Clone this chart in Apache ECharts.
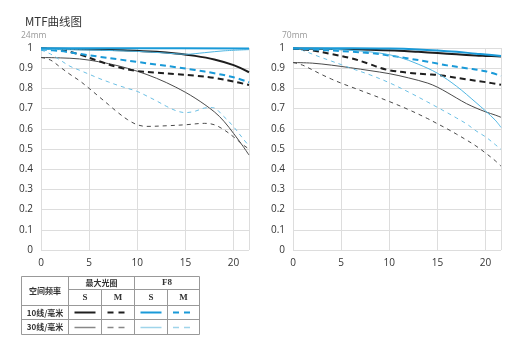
<!DOCTYPE html>
<html><head><meta charset="utf-8">
<script src="https://cdn.jsdelivr.net/npm/echarts@6/dist/echarts.min.js"></script>
<style>html,body{margin:0;padding:0;background:#fff}#c{width:525px;height:349px}</style>
</head><body><div id="c"></div>
<script>
// ---- data: [spatial position mm, MTF] ----
const panelTitles = ['24mm', '70mm'];
const xTicks = [0, 5, 10, 15, 20];
const xMax = 21.6;

// 24mm
const w_max10S = [[0,0.997],[3,0.995],[6,0.992],[9,0.988],[12,0.981],[14,0.973],[16,0.961],[18,0.943],[20,0.915],[21.6,0.88]];
const w_max10M = [[0,0.997],[2,0.99],[4,0.968],[6,0.935],[8,0.905],[10,0.886],[12,0.878],[14,0.871],[16,0.863],[18,0.852],[20,0.834],[21.6,0.817]];
const w_max30S = [[0,0.953],[2,0.951],[4,0.946],[6,0.932],[8,0.912],[10,0.885],[12,0.85],[14,0.806],[16,0.752],[18,0.684],[19,0.637],[20,0.577],[21,0.512],[21.6,0.47]];
const w_max30M = [[0,0.953],[1,0.94],[2,0.905],[3,0.87],[4,0.838],[5,0.8],[6,0.76],[7,0.72],[8,0.68],[9,0.645],[10,0.62],[11,0.612],[13,0.615],[15,0.62],[17,0.627],[18,0.62],[19,0.595],[20,0.56],[21,0.52],[21.6,0.5]];
const w_f8_10S = [[0,0.999],[10,0.999],[21.6,0.998]];
const w_f8_10M = [[0,0.993],[2,0.985],[4,0.971],[6,0.957],[8,0.944],[10,0.931],[12,0.918],[14,0.905],[16,0.891],[18,0.875],[20,0.855],[21.6,0.83]];
const w_f8_30S = [[0,0.993],[5,0.99],[10,0.983],[13,0.975],[15,0.969],[17,0.977],[19,0.986],[21.6,0.992]];
const w_f8_30M = [[0,0.99],[1,0.97],[2,0.94],[3,0.91],[4,0.89],[5,0.87],[6,0.85],[7,0.832],[8,0.815],[9,0.8],[10,0.785],[11,0.762],[12,0.738],[13,0.712],[14,0.69],[15,0.68],[16,0.687],[17,0.703],[17.8,0.705],[19,0.66],[20,0.61],[21,0.55],[21.6,0.515]];

// 70mm
const t_max10S = [[0,0.997],[4,0.995],[8,0.991],[11,0.987],[13,0.981],[15,0.975],[17,0.969],[19,0.963],[20,0.961],[21.6,0.958]];
const t_max10M = [[0,0.997],[2,0.988],[4,0.97],[6,0.95],[8,0.92],[9,0.902],[10,0.89],[12,0.877],[14,0.87],[15,0.867],[16,0.86],[18,0.845],[20,0.831],[21.6,0.818]];
const t_max30S = [[0,0.928],[2,0.925],[4,0.915],[6,0.902],[8,0.888],[10,0.873],[12,0.852],[14,0.826],[15,0.806],[16,0.78],[17,0.752],[18,0.725],[19,0.703],[20,0.684],[21,0.668],[21.6,0.657]];
const t_max30M = [[0,0.928],[1,0.915],[2,0.892],[3,0.868],[4,0.846],[5,0.826],[6,0.808],[8,0.772],[10,0.735],[12,0.695],[14,0.65],[15,0.625],[16,0.6],[17,0.573],[18,0.545],[19,0.515],[20,0.48],[21,0.442],[21.6,0.415]];
const t_f8_10S = [[0,0.999],[6,0.999],[10,0.997],[13,0.993],[15,0.988],[17,0.981],[19,0.972],[20,0.968],[21.6,0.96]];
const t_f8_10M = [[0,0.998],[3,0.99],[6,0.982],[8,0.975],[10,0.963],[12,0.948],[14,0.932],[15,0.923],[16,0.914],[18,0.9],[20,0.885],[21.6,0.862]];
const t_f8_30S = [[0,0.998],[4,0.994],[7,0.985],[9,0.975],[11,0.955],[13,0.92],[15,0.875],[17,0.81],[19,0.73],[20,0.688],[21,0.643],[21.6,0.607]];
const t_f8_30M = [[0,0.997],[1,0.988],[2,0.97],[3,0.952],[4,0.935],[5,0.918],[6,0.9],[8,0.867],[10,0.828],[12,0.782],[14,0.732],[15,0.706],[16,0.68],[17,0.653],[18,0.625],[19,0.59],[20,0.56],[21,0.522],[21.6,0.498]];

// legend table text
const tableHeader = ['空间频率', '最大光圈', 'F8', 'S', 'M', 'S', 'M'];
const rowLabels = ['10线/毫米', '30线/毫米'];

// ---- styles ----
const C_BLACK = '#1e1e1e', C_GRAY = '#4a4a4a', C_BLUE = '#1a9ad8', C_LBLUE = '#4fb6e2', C_LBLUE_D = '#6cc0e5';
const styles = {
  max10S: {color: C_BLACK, width: 2, type: 'solid'},
  max10M: {color: C_BLACK, width: 2, type: [6, 4]},
  max30S: {color: C_GRAY, width: 1, type: 'solid'},
  max30M: {color: C_GRAY, width: 1, type: [4, 4]},
  f8_10S: {color: C_BLUE, width: 2, type: 'solid'},
  f8_10M: {color: C_BLUE, width: 2, type: [6, 4]},
  f8_30S: {color: C_LBLUE, width: 1, type: 'solid'},
  f8_30M: {color: C_LBLUE_D, width: 1, type: [4, 4]}
};
const panels = [
  {max10S: w_max10S, max10M: w_max10M, max30S: w_max30S, max30M: w_max30M, f8_10S: w_f8_10S, f8_10M: w_f8_10M, f8_30S: w_f8_30S, f8_30M: w_f8_30M},
  {max10S: t_max10S, max10M: t_max10M, max30S: t_max30S, max30M: t_max30M, f8_10S: t_f8_10S, f8_10M: t_f8_10M, f8_30S: t_f8_30S, f8_30M: t_f8_30M}
];
const order = ['max30M', 'max30S', 'f8_30M', 'max10M', 'max10S', 'f8_10M', 'f8_30S', 'f8_10S'];

const gridPos = [{left: 41, top: 48, width: 208, height: 202}, {left: 293, top: 48, width: 208, height: 202}];
const axisFont = {color: '#333', fontSize: 10, fontFamily: 'Open Sans'};

const series = [];
panels.forEach((p, i) => {
  order.forEach(k => {
    const s = styles[k];
    series.push({
      type: 'line', xAxisIndex: i, yAxisIndex: i, data: p[k], showSymbol: false, smooth: 0.35,
      lineStyle: {color: s.color, width: s.width, type: s.type}, silent: true, animation: false
    });
  });
});

// ---- legend table graphics ----
const g = [];
const BC = '#999';
const tx = 21.5, ty = 276.5, tw = 178, th = 58;
const c1 = 68.5, c2 = 101.5, c3 = 134.5, c4 = 167.5;
const r1 = 289.5, r2 = 305.5, r3 = 319.5;
function ln(x1, y1, x2, y2) { g.push({type: 'line', shape: {x1, y1, x2, y2}, style: {stroke: BC, lineWidth: 1}, silent: true}); }
g.push({type: 'rect', shape: {x: tx, y: ty, width: tw, height: th}, style: {fill: 'none', stroke: BC, lineWidth: 1}, silent: true});
ln(c1, ty, c1, ty + th); ln(c3, ty, c3, ty + th);
ln(c2, r1, c2, ty + th); ln(c4, r1, c4, ty + th);
ln(c1, r1, tx + tw, r1); ln(tx, r2, tx + tw, r2); ln(tx, r3, tx + tw, r3);
function txt(x, y, t, font, size, weight) {
  g.push({type: 'text', x, y, silent: true, style: {text: t, fill: '#333', fontSize: size, fontFamily: font, fontWeight: weight || 'normal', align: 'center', verticalAlign: 'middle'}});
}
const CJK = '"Noto Sans CJK SC"', SERIF = '"Liberation Serif"';
txt((tx + c1) / 2, (ty + r2) / 2, tableHeader[0], CJK, 8, 'bold');
txt((c1 + c3) / 2, (ty + r1) / 2, tableHeader[1], CJK, 8, 'bold');
txt((c3 + tx + tw) / 2, (ty + r1) / 2, tableHeader[2], SERIF, 9, 'bold');
const colsC = [(c1 + c2) / 2, (c2 + c3) / 2, (c3 + c4) / 2, (c4 + tx + tw) / 2];
for (let i = 0; i < 4; i++) txt(colsC[i], (r1 + r2) / 2 + 0.5, tableHeader[3 + i], SERIF, 9, 'bold');
txt((tx + c1) / 2, (r2 + r3) / 2, rowLabels[0], CJK, 8, 'bold');
txt((tx + c1) / 2, (r3 + ty + th) / 2, rowLabels[1], CJK, 8, 'bold');
const legendKeys = [['max10S', 'max10M', 'f8_10S', 'f8_10M'], ['max30S', 'max30M', 'f8_30S', 'f8_30M']];
const rowY = [312.5, 327.5];
const legendColors = {max30S: '#888', max30M: '#888', f8_30S: '#9fd4ea', f8_30M: '#9fd4ea'};
legendKeys.forEach((row, ri) => row.forEach((k, ci) => {
  const s = styles[k];
  const half = 10.5;
  g.push({type: 'line', silent: true, shape: {x1: colsC[ci] - half, y1: rowY[ri], x2: colsC[ci] + half, y2: rowY[ri]},
    style: {stroke: legendColors[k] || s.color, lineWidth: ri === 0 ? 2 : 1.5, lineDash: s.type === 'solid' ? null : [6, 5]}});
}));
panelTitles.forEach((t, i) => {
  g.push({type: 'text', left: i === 0 ? 21 : 282, top: 31, silent: true, style: {text: t, fill: '#999', fontSize: 8.5, fontFamily: 'Open Sans'}});
});

const option = {
  backgroundColor: '#fff',
  animation: false,
  title: {text: 'MTF曲线图', left: 20, top: 11, textStyle: {fontSize: 11.5, fontWeight: 'normal', color: '#333', fontFamily: '"Noto Sans CJK SC"'}},
  grid: gridPos,
  xAxis: gridPos.map((_, i) => ({
    type: 'value', gridIndex: i, min: 0, max: xMax, interval: 5,
    axisLine: {show: false}, axisTick: {show: false},
    splitLine: {show: true, lineStyle: {color: '#ddd', width: 1}},
    axisLabel: Object.assign({margin: 8, formatter: v => (Math.abs(v % 5) < 1e-6 ? String(v) : '')}, axisFont)
  })),
  yAxis: gridPos.map((_, i) => ({
    type: 'value', gridIndex: i, min: 0, max: 1, interval: 0.1,
    axisLine: {show: false}, axisTick: {show: false},
    splitLine: {show: true, lineStyle: {color: '#ddd', width: 1}},
    axisLabel: Object.assign({margin: 8, formatter: v => String(+v.toFixed(1))}, axisFont)
  })),
  series,
  graphic: g
};
const chart = echarts.init(document.getElementById('c'), null, {renderer: 'canvas'});
chart.setOption(option);
</script></body></html>
